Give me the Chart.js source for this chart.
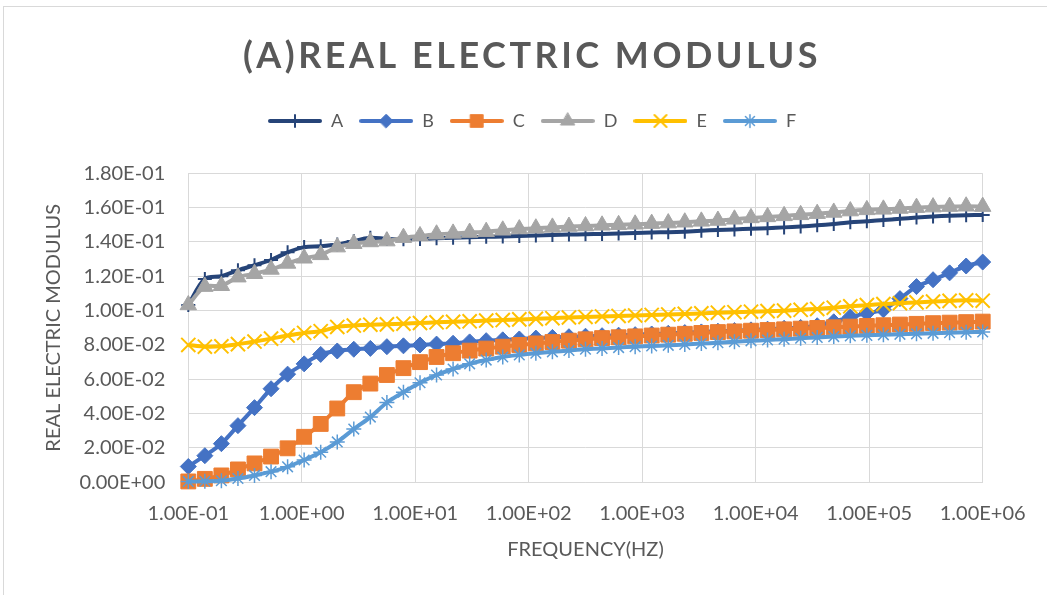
<!DOCTYPE html>
<html lang="en">
<head>
<meta charset="UTF-8">
<title>(A) Real electric modulus</title>
<script src="https://cdn.jsdelivr.net/npm/chart.js@4"></script>
<style>
  html, body { margin: 0; padding: 0; background: #fff; overflow: hidden; }
  #frame { position: absolute; left: 3px; top: 6px; width: 1200px; height: 700px; border: 1px solid #d9d9d9; }
  #wrap { position: absolute; left: 0; top: 0; width: 1064px; height: 595px; }
</style>
</head>
<body>
<div id="frame"></div>
<div id="wrap"><canvas id="chart" width="1064" height="595"></canvas></div>
<script>
// Frequencies (Hz), log-spaced sweep 0.1 Hz .. 1 MHz
const freq = [0.1, 0.1399, 0.1957, 0.2738, 0.3831, 0.5360, 0.7499, 1.049, 1.468, 2.054,
  2.873, 4.019, 5.623, 7.867, 11.01, 15.40, 21.54, 30.14, 42.17, 59.00,
  82.54, 115.5, 161.6, 226.0, 316.2, 442.4, 619.0, 866.0, 1211, 1695,
  2371, 3318, 4642, 6494, 9085, 12711, 17783, 24879, 34807, 48697,
  68129, 95316, 133352, 186566, 261016, 365174, 510897, 714771, 1000000];

// Real electric modulus M' for each sample
const seriesA = [0.1033, 0.1185, 0.1200, 0.1235, 0.1265, 0.1295, 0.1340, 0.1370, 0.1375, 0.1385,
  0.1405, 0.1425, 0.1418, 0.1416, 0.1418, 0.1421, 0.1424, 0.1427, 0.1430, 0.1432,
  0.1435, 0.1438, 0.1440, 0.1443, 0.1445, 0.1447, 0.1450, 0.1452, 0.1455, 0.1457,
  0.1460, 0.1465, 0.1470, 0.1473, 0.1477, 0.1480, 0.1485, 0.1490, 0.1497, 0.1505,
  0.1515, 0.1520, 0.1528, 0.1535, 0.1542, 0.1548, 0.1553, 0.1556, 0.1557];
const seriesB = [0.0092, 0.0155, 0.0225, 0.0330, 0.0435, 0.0545, 0.0630, 0.0690, 0.0745, 0.0765,
  0.0775, 0.0780, 0.0790, 0.0795, 0.0800, 0.0805, 0.0810, 0.0818, 0.0825, 0.0830,
  0.0835, 0.0840, 0.0844, 0.0848, 0.0851, 0.0854, 0.0857, 0.0860, 0.0864, 0.0868,
  0.0872, 0.0876, 0.0880, 0.0884, 0.0888, 0.0892, 0.0897, 0.0902, 0.0912, 0.0935,
  0.0963, 0.0985, 0.1005, 0.1070, 0.1140, 0.1180, 0.1220, 0.1260, 0.1283];
const seriesC = [0.0005, 0.0020, 0.0040, 0.0075, 0.0110, 0.0150, 0.0198, 0.0265, 0.0340, 0.0430,
  0.0525, 0.0575, 0.0625, 0.0665, 0.0700, 0.0730, 0.0752, 0.0767, 0.0779, 0.0790,
  0.0800, 0.0809, 0.0817, 0.0825, 0.0833, 0.0840, 0.0845, 0.0850, 0.0855, 0.0860,
  0.0865, 0.0870, 0.0875, 0.0879, 0.0883, 0.0887, 0.0891, 0.0895, 0.0899, 0.0903,
  0.0907, 0.0911, 0.0915, 0.0919, 0.0923, 0.0927, 0.0930, 0.0933, 0.0936];
const seriesD = [0.1033, 0.1140, 0.1145, 0.1195, 0.1215, 0.1240, 0.1275, 0.1305, 0.1325, 0.1370,
  0.1390, 0.1400, 0.1405, 0.1425, 0.1435, 0.1445, 0.1450, 0.1455, 0.1460, 0.1468,
  0.1475, 0.1480, 0.1485, 0.1490, 0.1493, 0.1497, 0.1500, 0.1503, 0.1507, 0.1510,
  0.1515, 0.1520, 0.1525, 0.1532, 0.1540, 0.1546, 0.1552, 0.1558, 0.1565, 0.1572,
  0.1580, 0.1587, 0.1590, 0.1595, 0.1600, 0.1603, 0.1606, 0.1608, 0.1606];
const seriesE = [0.0800, 0.0790, 0.0792, 0.0805, 0.0820, 0.0837, 0.0855, 0.0870, 0.0880, 0.0905,
  0.0913, 0.0918, 0.0920, 0.0924, 0.0928, 0.0932, 0.0935, 0.0938, 0.0942, 0.0945,
  0.0949, 0.0952, 0.0956, 0.0960, 0.0963, 0.0966, 0.0969, 0.0972, 0.0975, 0.0978,
  0.0981, 0.0984, 0.0988, 0.0991, 0.0994, 0.0997, 0.1000, 0.1005, 0.1010, 0.1017,
  0.1025, 0.1032, 0.1038, 0.1043, 0.1048, 0.1053, 0.1057, 0.1060, 0.1058];
const seriesF = [0.0005, 0.0006, 0.0009, 0.0022, 0.0040, 0.0062, 0.0090, 0.0130, 0.0175, 0.0235,
  0.0310, 0.0380, 0.0465, 0.0525, 0.0580, 0.0625, 0.0660, 0.0690, 0.0712, 0.0730,
  0.0742, 0.0752, 0.0760, 0.0768, 0.0775, 0.0780, 0.0785, 0.0790, 0.0794, 0.0798,
  0.0803, 0.0808, 0.0813, 0.0819, 0.0824, 0.0829, 0.0834, 0.0839, 0.0844, 0.0849,
  0.0853, 0.0856, 0.0859, 0.0862, 0.0865, 0.0868, 0.0871, 0.0874, 0.0876];

const seriesNames = ['A', 'B', 'C', 'D', 'E', 'F'];
const xTickValues = [0.1, 1, 10, 100, 1000, 10000, 100000, 1000000];
const xTickLabels = ['1.00E-01', '1.00E+00', '1.00E+01', '1.00E+02', '1.00E+03', '1.00E+04', '1.00E+05', '1.00E+06'];
const yTickLabels = ['0.00E+00', '2.00E-02', '4.00E-02', '6.00E-02', '8.00E-02', '1.00E-01', '1.20E-01', '1.40E-01', '1.60E-01', '1.80E-01'];

const TEXT = '#595959';
const GRID = '#d9d9d9';
const FONT = 'Lato';

// marker look per series (Excel default palette)
const styles = [
  { color: '#264478', point: 'cross', radius: 7, pw: 2 },
  { color: '#4472C4', point: 'rectRot', radius: 8, pw: 1 },
  { color: '#ED7D31', point: 'rect', radius: 10.5, pw: 1 },
  { color: '#A5A5A5', point: 'triangle', radius: 9.5, pw: 1 },
  { color: '#FFC000', point: 'crossRot', radius: 10, pw: 2 },
  { color: '#5B9BD5', point: 'star', radius: 7.5, pw: 1.5 }
];

// small line + marker images for the legend
function legendIcon(s) {
  const c = document.createElement('canvas');
  c.width = 54;
  c.height = 24;
  const ctx = c.getContext('2d');
  ctx.strokeStyle = s.color;
  ctx.fillStyle = s.color;
  ctx.lineWidth = 4;
  ctx.lineCap = 'round';
  ctx.beginPath();
  ctx.moveTo(2, 12);
  ctx.lineTo(52, 12);
  ctx.stroke();
  ctx.lineWidth = s.pw;
  Chart.helpers.drawPoint(ctx, { pointStyle: s.point, radius: s.radius * 0.85, rotation: 0, borderWidth: s.pw }, 27, 12);
  return c;
}
const legendIcons = styles.map(legendIcon);

const allSeries = [seriesA, seriesB, seriesC, seriesD, seriesE, seriesF];
const datasets = allSeries.map((vals, i) => ({
  label: seriesNames[i],
  data: freq.map((f, k) => ({ x: f, y: vals[k] })),
  borderColor: styles[i].color,
  backgroundColor: styles[i].color,
  borderWidth: 4,
  pointStyle: styles[i].point,
  pointRadius: styles[i].radius,
  pointBorderWidth: styles[i].pw,
  pointBackgroundColor: styles[i].color,
  pointBorderColor: styles[i].color,
  tension: 0.3,
  clip: false,
  order: allSeries.length - i
}));

const chart = new Chart(document.getElementById('chart'), {
  type: 'line',
  data: { datasets: datasets },
  options: {
    responsive: false,
    animation: false,
    layout: { padding: 0 },
    plugins: {
      tooltip: { enabled: false },
      title: {
        display: true,
        text: '(A)REAL ELECTRIC MODULUS',
        color: TEXT,
        font: { family: FONT, size: 36, weight: 'bold' },
        padding: { top: 35, bottom: 17.8 }
      },
      legend: {
        position: 'top',
        labels: {
          usePointStyle: true,
          pointStyleWidth: 54,
          padding: 16,
          color: TEXT,
          font: { family: FONT, size: 18 },
          sort: (a, b) => a.datasetIndex - b.datasetIndex,
          generateLabels: c => Chart.defaults.plugins.legend.labels.generateLabels(c)
            .map(item => Object.assign(item, { pointStyle: legendIcons[item.datasetIndex] }))
        }
      }
    },
    scales: {
      x: {
        type: 'logarithmic',
        position: 'bottom',
        min: 0.1,
        max: 1000000,
        afterBuildTicks: s => { s.ticks = xTickValues.map(v => ({ value: v })); },
        afterFit: s => { s.height = 112.7; },
        grid: { color: GRID, lineWidth: 1, drawTicks: false },
        border: { color: GRID },
        ticks: {
          autoSkip: false,
          maxRotation: 0,
          padding: 19,
          color: TEXT,
          font: { family: FONT, size: 20 },
          callback: (v, i) => xTickLabels[i]
        },
        title: {
          display: true,
          text: 'FREQUENCY(HZ)',
          color: TEXT,
          font: { family: FONT, size: 20 },
          padding: { top: 0, bottom: 33 }
        }
      },
      y: {
        position: 'left',
        min: 0,
        max: 0.18,
        afterFit: s => { s.width = 188.3; },
        grid: { color: GRID, lineWidth: 1, drawTicks: false },
        border: { display: false },
        ticks: {
          stepSize: 0.02,
          padding: 23,
          color: TEXT,
          font: { family: FONT, size: 20 },
          callback: (v, i) => yTickLabels[i]
        },
        title: {
          display: true,
          text: 'REAL ELECTRIC MODULUS',
          color: TEXT,
          font: { family: FONT, size: 20 },
          padding: { top: 42, bottom: 0 }
        }
      },
      // empty spacer axes, only to place the plot area
      xTop: {
        type: 'linear',
        position: 'top',
        grid: { display: false },
        border: { display: false },
        ticks: { display: false },
        afterFit: s => { s.height = 33.3; }
      },
      yRight: {
        type: 'linear',
        position: 'right',
        grid: { display: false },
        border: { display: false },
        ticks: { display: false },
        afterFit: s => { s.width = 81.3; }
      }
    }
  }
});

// the Excel title is letter-spaced; widen it the same way
const titleBox = chart.titleBlock;
if (titleBox) {
  const drawTitle = titleBox.draw.bind(titleBox);
  titleBox.draw = function () {
    const ctx = this.ctx;
    const prev = ctx.letterSpacing;
    ctx.letterSpacing = '3.5px';
    drawTitle();
    ctx.letterSpacing = prev || '0px';
  };
  chart.draw();
}
</script>
</body>
</html>
